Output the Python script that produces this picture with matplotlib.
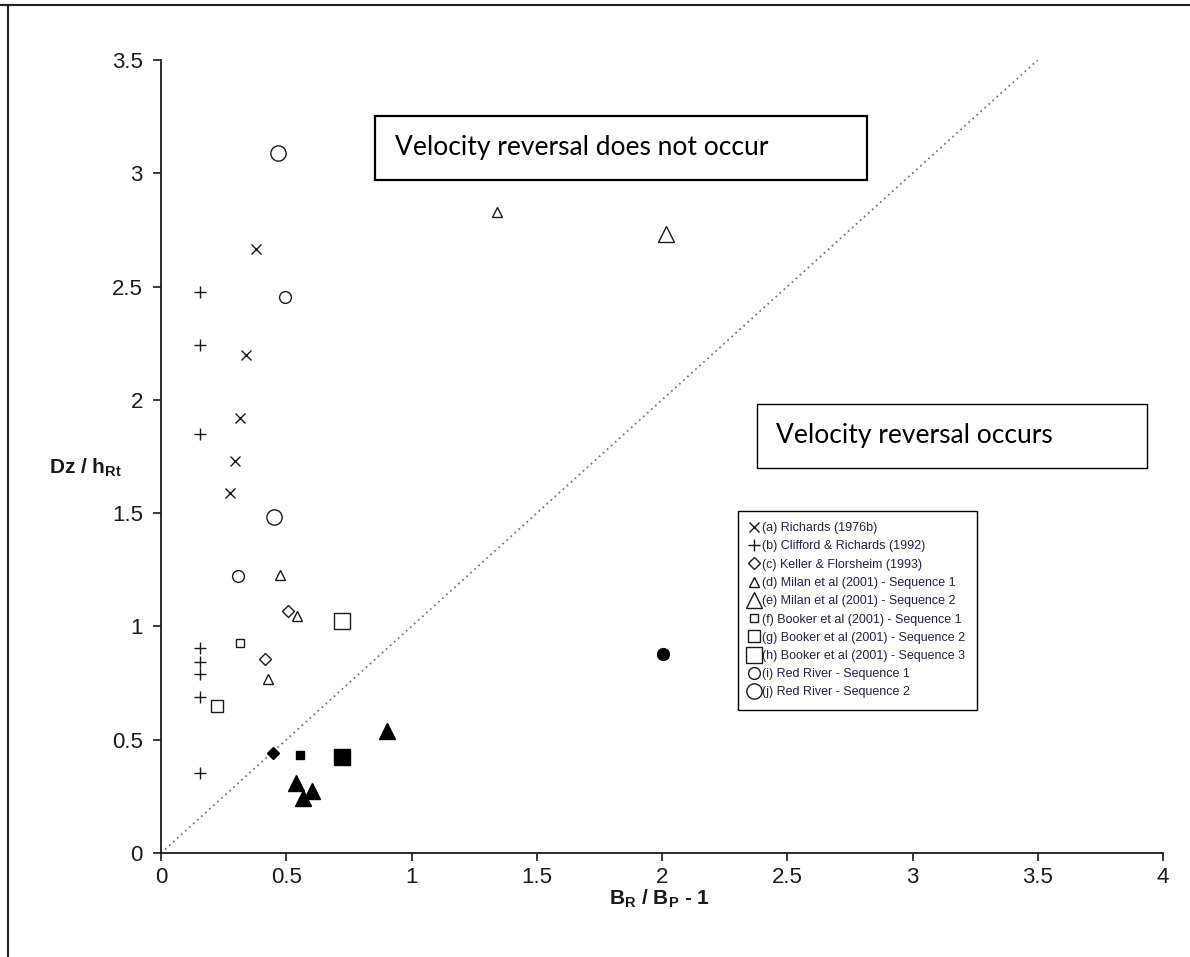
import matplotlib
matplotlib.use("Agg")
import matplotlib.pyplot as plt
from matplotlib.lines import Line2D
from matplotlib.patches import Rectangle

plt.rcParams["font.family"] = ["Liberation Sans", "DejaVu Sans"]
plt.rcParams["mathtext.fontset"] = "custom"
plt.rcParams["mathtext.rm"] = "Liberation Sans"
plt.rcParams["mathtext.bf"] = "Liberation Sans:bold"

# (a) Richards (1976b)
richards_x = [0.38, 0.34, 0.315, 0.295, 0.275]
richards_y = [2.665, 2.20, 1.92, 1.73, 1.59]
# (b) Clifford & Richards (1992)
clifford_x = [0.155, 0.155, 0.155, 0.155, 0.155, 0.155, 0.155, 0.155]
clifford_y = [2.474, 2.24, 1.85, 0.906, 0.844, 0.792, 0.69, 0.352]
# (c) Keller & Florsheim (1993)
keller_x = [0.506, 0.415]
keller_y = [1.069, 0.856]
keller_fill_x = [0.449]
keller_fill_y = [0.44]
# (d) Milan et al (2001) - Sequence 1
milan1_x = [0.475, 0.542, 0.429, 1.342]
milan1_y = [1.227, 1.045, 0.77, 2.83]
# (e) Milan et al (2001) - Sequence 2
milan2_x = [2.017]
milan2_y = [2.73]
milan2_fill_x = [0.901, 0.538, 0.604, 0.568]
milan2_fill_y = [0.539, 0.307, 0.275, 0.241]
# (f) Booker et al (2001) - Sequence 1
booker1_x = [0.316]
booker1_y = [0.929]
booker1_fill_x = [0.555]
booker1_fill_y = [0.432]
# (g) Booker et al (2001) - Sequence 2
booker2_x = [0.225]
booker2_y = [0.65]
# (h) Booker et al (2001) - Sequence 3
booker3_x = [0.722]
booker3_y = [1.025]
booker3_fill_x = [0.722]
booker3_fill_y = [0.425]
# (i) Red River - Sequence 1
red1_x = [0.495, 0.309]
red1_y = [2.455, 1.224]
red1_fill_x = [2.005]
red1_fill_y = [0.878]
# (j) Red River - Sequence 2
red2_x = [0.466, 0.453]
red2_y = [3.09, 1.481]

# threshold line (1:1)
line_x = [0, 3.5]
line_y = [0, 3.5]

fig = plt.figure(figsize=(11.9, 9.57), dpi=100)
W, H = 1190, 957
ax = fig.add_axes([161 / W, 1 - 853 / H, (1163 - 161) / W, (853 - 60) / H])

ink = "#1a1a1a"

ax.plot(line_x, line_y, linestyle=(0, (1, 2)), color="#777777", lw=1.3, zorder=1)

series = [
    (richards_x, richards_y, "x", 7, "(a) Richards (1976b)"),
    (clifford_x, clifford_y, "+", 8, "(b) Clifford & Richards (1992)"),
    (keller_x, keller_y, "D", 6, "(c) Keller & Florsheim (1993)"),
    (milan1_x, milan1_y, "^", 7.5, "(d) Milan et al (2001) - Sequence 1"),
    (milan2_x, milan2_y, "^", 11, "(e) Milan et al (2001) - Sequence 2"),
    (booker1_x, booker1_y, "s", 5.5, "(f) Booker et al (2001) - Sequence 1"),
    (booker2_x, booker2_y, "s", 8.5, "(g) Booker et al (2001) - Sequence 2"),
    (booker3_x, booker3_y, "s", 11, "(h) Booker et al (2001) - Sequence 3"),
    (red1_x, red1_y, "o", 8.5, "(i) Red River - Sequence 1"),
    (red2_x, red2_y, "o", 11, "(j) Red River - Sequence 2"),
]

handles = []
for xs, ys, m, ms, lab in series:
    h, = ax.plot(xs, ys, linestyle="none", marker=m, markersize=ms,
                 markerfacecolor="white", markeredgecolor=ink,
                 markeredgewidth=1.0, color=ink, label=lab, zorder=3)
    handles.append(h)

filled = [
    (keller_fill_x, keller_fill_y, "D", 6),
    (milan2_fill_x, milan2_fill_y, "^", 11),
    (booker1_fill_x, booker1_fill_y, "s", 5.5),
    (booker3_fill_x, booker3_fill_y, "s", 11),
    (red1_fill_x, red1_fill_y, "o", 8.5),
]
for xs, ys, m, ms in filled:
    ax.plot(xs, ys, linestyle="none", marker=m, markersize=ms,
            markerfacecolor="black", markeredgecolor="black", zorder=3)

ax.set_xlim(0, 4)
ax.set_ylim(0, 3.5)
ax.set_xticks([0, 0.5, 1, 1.5, 2, 2.5, 3, 3.5, 4])
ax.set_xticklabels(["0", "0.5", "1", "1.5", "2", "2.5", "3", "3.5", "4"])
ax.set_yticks([0, 0.5, 1, 1.5, 2, 2.5, 3, 3.5])
ax.set_yticklabels(["0", "0.5", "1", "1.5", "2", "2.5", "3", "3.5"])
ax.tick_params(labelsize=16, length=6, width=1.2, color=ink, labelcolor=ink, pad=7)
ax.tick_params(axis="x", pad=4)
for s in ["top", "right"]:
    ax.spines[s].set_visible(False)
for s in ["left", "bottom"]:
    ax.spines[s].set_linewidth(1.3)
    ax.spines[s].set_color(ink)

fig.text(86 / W, 1 - 468 / H, r"Dz / h$\mathbf{_{Rt}}$", ha="center", va="center",
         fontsize=15, fontweight="bold", color=ink)
fig.text(660 / W, 1 - 899 / H, r"B$\mathbf{_R}$ / B$\mathbf{_P}$ - 1", ha="center",
         va="center", fontsize=15, fontweight="bold", color=ink)

leg = ax.legend(handles=handles, loc="upper left",
                bbox_to_anchor=(738 / W, 1 - 511 / H), bbox_transform=fig.transFigure,
                fontsize=9, frameon=True, fancybox=False, framealpha=1,
                edgecolor="black", handlelength=0.7, handletextpad=0.35,
                labelspacing=0.5, borderpad=0.9, borderaxespad=0)
leg.get_frame().set_linewidth(1.0)
for t in leg.get_texts():
    t.set_color("#222244")

# annotation boxes
fig.add_artist(Rectangle((375 / W, 1 - 180 / H), (867 - 375) / W, (180 - 116) / H,
                         transform=fig.transFigure, facecolor="white",
                         edgecolor="black", lw=1.6))
fig.text(395 / W, 1 - 147 / H, "Velocity reversal does not occur", ha="left",
         va="center", fontsize=19, family=["Lato", "DejaVu Sans"], color="black")
fig.add_artist(Rectangle((757 / W, 1 - 468 / H), (1147 - 757) / W, (468 - 404) / H,
                         transform=fig.transFigure, facecolor="white",
                         edgecolor="black", lw=1.0))
fig.text(776 / W, 1 - 435 / H, "Velocity reversal occurs", ha="left",
         va="center", fontsize=19, family=["Lato", "DejaVu Sans"], color="black")

# outer frame (top and left edges)
fig.add_artist(Line2D([0, 1], [1 - 5 / H, 1 - 5 / H], transform=fig.transFigure,
                      color="#222222", lw=1.5))
fig.add_artist(Line2D([8 / W, 8 / W], [0, 1 - 5 / H], transform=fig.transFigure,
                      color="#222222", lw=1.5))

fig.savefig("out.png", dpi=100)
